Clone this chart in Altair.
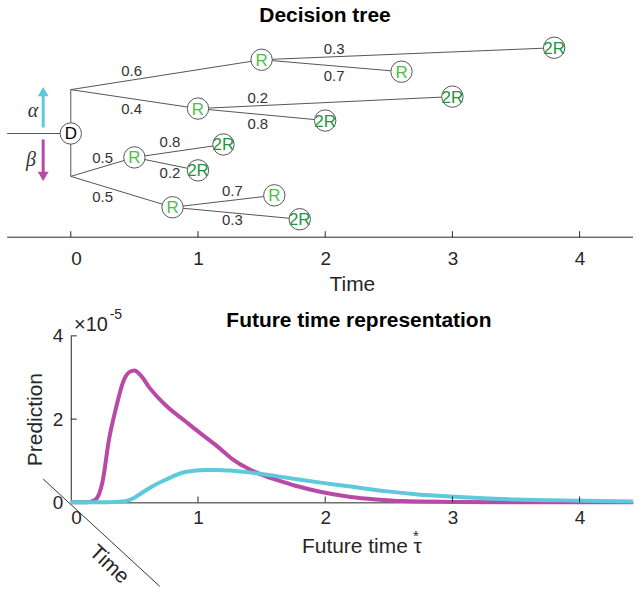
import altair as alt
import pandas as pd

# ---------------- Decision tree (top panel) ----------------
node_id    = ["D", "R1", "R2", "A", "B", "C", "E", "R3", "F", "G", "R4", "H", "K"]
node_label = ["D", "R", "R", "2R", "R", "2R", "2R", "R", "2R", "2R", "R", "R", "2R"]
node_time  = [0.0, 1.5, 1.0, 3.8, 2.6, 3.0, 2.0, 0.5, 1.2, 1.0, 0.8, 1.6, 1.8]
node_level = [0.0, 7.4, 2.5, 8.6, 6.2, 3.7, 1.3, -2.4, -1.1, -3.7, -7.4, -6.2, -8.6]

# helper points (entry line start and branch junctions)
aux_id    = ["in", "Ju", "Jd"]
aux_time  = [-0.5, 0.0, 0.0]
aux_level = [0.0, 4.4, -4.3]

edge_from = ["in", "D", "D", "Ju", "Ju", "R1", "R1", "R2", "R2", "Jd", "Jd", "R3", "R3", "R4", "R4"]
edge_to   = ["D", "Ju", "Jd", "R1", "R2", "A", "B", "C", "E", "R3", "R4", "F", "G", "H", "K"]

prob_text  = ["0.6", "0.4", "0.3", "0.7", "0.2", "0.8", "0.8", "0.2", "0.5", "0.5", "0.7", "0.3"]
prob_time  = [0.478, 0.478, 2.07, 2.07, 1.47, 1.47, 0.78, 0.78, 0.25, 0.25, 1.27, 1.27]
prob_level = [6.3, 2.5, 8.5, 5.8, 3.6, 1.0, -0.9, -4.0, -2.5, -6.4, -5.8, -8.7]

tree_ticks = [0, 1, 2, 3, 4]

# ---------------- Future time representation (bottom panel) ----------------
beta_tau = [0.0, 0.1, 0.15, 0.2, 0.25, 0.3, 0.36, 0.41, 0.46, 0.5, 0.55, 0.62, 0.75,
            0.9, 1.01, 1.15, 1.27, 1.4, 1.53, 1.66, 1.79, 1.95, 2.2, 2.4, 2.6, 3.0,
            3.5, 4.0, 4.42]
beta_val = [0.0, 0.0, 0.01, 0.08, 0.5, 1.5, 2.32, 2.88, 3.13, 3.17, 3.05, 2.75, 2.32,
            1.95, 1.68, 1.35, 1.04, 0.80, 0.63, 0.50, 0.38, 0.26, 0.13, 0.07, 0.03, 0.01,
            0.0, 0.0, 0.0]
alpha_tau = [0.0, 0.2, 0.3, 0.43, 0.5, 0.56, 0.65, 0.75, 0.9, 1.06, 1.15, 1.27, 1.4,
             1.53, 1.66, 1.79, 1.95, 2.2, 2.47, 2.73, 2.98, 3.5, 4.03, 4.42]
alpha_val = [0.0, 0.0, 0.005, 0.03, 0.11, 0.23, 0.40, 0.55, 0.73, 0.78, 0.78, 0.76, 0.72,
             0.67, 0.61, 0.55, 0.48, 0.38, 0.27, 0.19, 0.14, 0.07, 0.04, 0.02]

pred_xticks = [1, 2, 3, 4]
pred_yticks = [2, 4]

MAGENTA = "#b84aa6"
CYAN = "#5ec8dc"
AXC = "#262626"
FONT = "Liberation Sans"
XMAX = 4.42
PW = 564

# ---------- build tables ----------
pos = {}
for i, t, l in zip(node_id, node_time, node_level):
    pos[i] = (t, l)
for i, t, l in zip(aux_id, aux_time, aux_level):
    pos[i] = (t, l)

edges = pd.DataFrame({
    "x": [pos[a][0] for a in edge_from], "y": [pos[a][1] for a in edge_from],
    "x2": [pos[b][0] for b in edge_to], "y2": [pos[b][1] for b in edge_to],
})
label_colors = {"D": "#000000", "R": "#4fbf4a", "2R": "#1f9440"}
nodes = pd.DataFrame({"t": node_time, "l": node_level, "lab": node_label,
                      "col": [label_colors[k] for k in node_label]})
probs = pd.DataFrame({"t": prob_time, "l": prob_level, "txt": prob_text})

TX = alt.Scale(domain=[0, XMAX], nice=False, zero=False)
TY = alt.Scale(domain=[-10.4, 10.8], nice=False, zero=False)

base_axis_x = alt.Axis(values=tree_ticks, format="d", domain=False, ticks=False, grid=False,
                       labelPadding=12, labelFontSize=19, title="Time", titleFontSize=21,
                       titlePadding=5, titleFontWeight="normal")

edge_layer = alt.Chart(edges).mark_rule(color="#555555", strokeWidth=1).encode(
    x=alt.X("x:Q", scale=TX, axis=base_axis_x),
    y=alt.Y("y:Q", scale=TY, axis=None),
    x2="x2:Q", y2="y2:Q")

axis_line = alt.Chart(pd.DataFrame({"x": [-0.5], "x2": [XMAX], "y": [-10.4]})).mark_rule(
    color=AXC, strokeWidth=1).encode(x=alt.X("x:Q", scale=TX), x2="x2:Q",
                                     y=alt.Y("y:Q", scale=TY))
tick_df = pd.DataFrame({"x": tree_ticks, "y": [-10.4] * 5, "y2": [-9.8] * 5})
tick_layer = alt.Chart(tick_df).mark_rule(color=AXC, strokeWidth=1).encode(
    x=alt.X("x:Q", scale=TX), y=alt.Y("y:Q", scale=TY), y2="y2:Q")

node_layer = alt.Chart(nodes).mark_point(shape="circle", filled=True, fill="white",
                                         stroke="#555555", strokeWidth=1, size=460,
                                         opacity=1).encode(
    x=alt.X("t:Q", scale=TX), y=alt.Y("l:Q", scale=TY))
node_text = alt.Chart(nodes).mark_text(font=FONT, fontSize=17, baseline="middle",
                                       align="center", dy=1).encode(
    x=alt.X("t:Q", scale=TX), y=alt.Y("l:Q", scale=TY), text="lab:N",
    color=alt.Color("col:N", scale=None, legend=None))
prob_layer = alt.Chart(probs).mark_text(font=FONT, fontSize=15, color="#333333",
                                        baseline="middle").encode(
    x=alt.X("t:Q", scale=TX), y=alt.Y("l:Q", scale=TY), text="txt:N")

arrow_df = pd.DataFrame({"x": [-0.217, -0.217], "y": [0.6, -0.6], "y2": [3.8, -3.9],
                         "c": [CYAN, MAGENTA]})
shafts = alt.Chart(arrow_df).mark_rule(strokeWidth=3).encode(
    x=alt.X("x:Q", scale=TX), y=alt.Y("y:Q", scale=TY), y2="y2:Q",
    color=alt.Color("c:N", scale=None, legend=None))
head_df = pd.DataFrame({"x": [-0.217, -0.217], "y": [4.2, -4.3], "c": [CYAN, MAGENTA],
                        "s": ["triangle-up", "triangle-down"]})
heads = alt.Chart(head_df).mark_point(filled=True, size=120, opacity=1).encode(
    x=alt.X("x:Q", scale=TX), y=alt.Y("y:Q", scale=TY),
    color=alt.Color("c:N", scale=None, legend=None),
    shape=alt.Shape("s:N", scale=None))
greek_df = pd.DataFrame({"x": [-0.298, -0.313], "y": [2.3, -2.7], "g": ["α", "β"]})
greek = alt.Chart(greek_df).mark_text(font="Liberation Serif", fontStyle="italic",
                                      fontSize=20, color="#333333").encode(
    x=alt.X("x:Q", scale=TX), y=alt.Y("y:Q", scale=TY), text="g:N")

top = alt.layer(edge_layer, axis_line, tick_layer, shafts, heads, greek, node_layer,
                node_text, prob_layer).properties(
    width=PW, height=212,
    title=alt.TitleParams("Decision tree", fontSize=21, font=FONT, fontWeight="bold",
                          color="black", dx=-27, offset=0))

# ---------- bottom ----------
PX = alt.Scale(domain=[0, XMAX], nice=False, zero=False)
PY = alt.Scale(domain=[0, 4], nice=False, zero=False)

beta_df = pd.DataFrame({"tau": beta_tau, "v": beta_val})
alpha_df = pd.DataFrame({"tau": alpha_tau, "v": alpha_val})

bx_axis = alt.Axis(values=[0, 1, 2, 3, 4], format="d", ticks=False, grid=False,
                   labelPadding=6, labelFontSize=19, title=None, domainColor=AXC)
by_axis = alt.Axis(values=[0, 2, 4], format="d", ticks=False, grid=False, labelPadding=8,
                   labelFontSize=19, title="Prediction", titleFontSize=21,
                   titleFontWeight="normal", titlePadding=7, domainColor=AXC)

beta_line = alt.Chart(beta_df).mark_line(color=MAGENTA, strokeWidth=4,
                                         interpolate="monotone").encode(
    x=alt.X("tau:Q", scale=PX, axis=bx_axis), y=alt.Y("v:Q", scale=PY, axis=by_axis))
alpha_line = alt.Chart(alpha_df).mark_line(color=CYAN, strokeWidth=4,
                                           interpolate="monotone").encode(
    x=alt.X("tau:Q", scale=PX), y=alt.Y("v:Q", scale=PY))

pxt = pd.DataFrame({"x": pred_xticks, "y": [0] * 4, "y2": [0.14] * 4})
pxt_layer = alt.Chart(pxt).mark_rule(color=AXC).encode(
    x=alt.X("x:Q", scale=PX), y=alt.Y("y:Q", scale=PY), y2="y2:Q")
pyt = pd.DataFrame({"x": [0, 0], "x2": [0.047, 0.047], "y": pred_yticks})
pyt_layer = alt.Chart(pyt).mark_rule(color=AXC).encode(
    x=alt.X("x:Q", scale=PX), x2="x2:Q", y=alt.Y("y:Q", scale=PY))

diag = alt.Chart(pd.DataFrame({"x": [-0.217], "y": [0.56], "x2": [0.70], "y2": [-2.02]})
                 ).mark_rule(color="#333333", strokeWidth=1).encode(
    x=alt.X("x:Q", scale=PX), y=alt.Y("y:Q", scale=PY), x2="x2:Q", y2="y2:Q")
diag_text = alt.Chart(pd.DataFrame({"x": [0.30], "y": [-1.50], "t": ["Time"]})).mark_text(
    font=FONT, fontSize=21, angle=43, color=AXC).encode(
    x=alt.X("x:Q", scale=PX), y=alt.Y("y:Q", scale=PY), text="t:N")

xt_df = pd.DataFrame({"x": [2.76], "y": [-1.07], "t": ["Future time τ"]})
xtitle = alt.Chart(xt_df).mark_text(font=FONT, fontSize=21, align="right",
                                    baseline="middle", color=AXC).encode(
    x=alt.X("x:Q", scale=PX), y=alt.Y("y:Q", scale=PY), text="t:N")
star_df = pd.DataFrame({"x": [2.714], "y": [-0.80], "t": ["*"]})
star = alt.Chart(star_df).mark_text(font=FONT, fontSize=15, baseline="middle",
                                    color=AXC).encode(
    x=alt.X("x:Q", scale=PX), y=alt.Y("y:Q", scale=PY), text="t:N")

exp_df = pd.DataFrame({"x": [0.026, 0.306], "y": [4.27, 4.5], "t": ["×10", "-5"],
                       "fs": [20, 14]})
exp_layer = alt.Chart(exp_df).mark_text(font=FONT, align="left", baseline="middle",
                                        color=AXC).encode(
    x=alt.X("x:Q", scale=PX), y=alt.Y("y:Q", scale=PY), text="t:N",
    size=alt.Size("fs:Q", scale=None, legend=None))

bottom = alt.layer(beta_line, alpha_line, pxt_layer, pyt_layer, diag, diag_text, xtitle,
                   star, exp_layer).properties(
    width=PW, height=167,
    title=alt.TitleParams("Future time representation", fontSize=21, font=FONT,
                          fontWeight="bold", color="black", dx=7, offset=-23))

chart = alt.vconcat(top, bottom, spacing=99, bounds="flush").properties(
    padding={"left": 6, "top": 4, "right": 0, "bottom": 0}, background="white"
).configure_view(stroke=None).configure_axis(
    labelFont=FONT, titleFont=FONT, labelColor=AXC, titleColor=AXC, domainColor=AXC,
    grid=False)

chart.save("out.html", embed_options={"renderer": "svg", "actions": False})
